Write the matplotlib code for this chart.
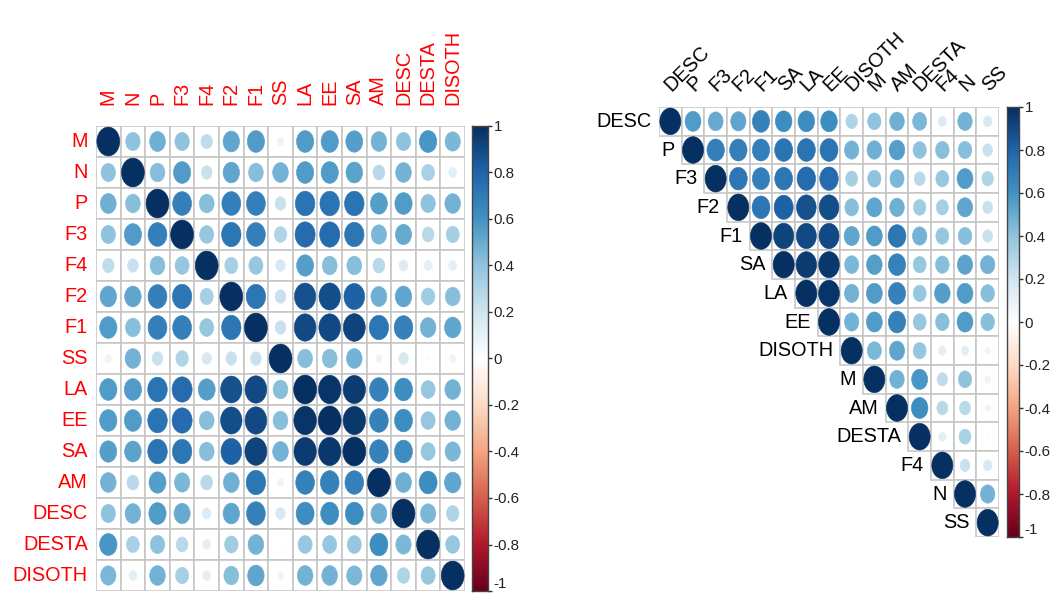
import matplotlib
matplotlib.use("Agg")
import matplotlib.pyplot as plt
import numpy as np
from matplotlib.patches import Ellipse, Rectangle
from matplotlib.colors import LinearSegmentedColormap
from matplotlib import font_manager as fm
from matplotlib.transforms import offset_copy

# variables in original order
labels = ["M", "N", "P", "F3", "F4", "F2", "F1", "SS", "LA", "EE", "SA",
          "AM", "DESC", "DESTA", "DISOTH"]

# order after hierarchical clustering
hc_order = ["DESC", "P", "F3", "F2", "F1", "SA", "LA", "EE", "DISOTH",
            "M", "AM", "DESTA", "F4", "N", "SS"]

corr = np.array([
    # M    N    P    F3   F4   F2   F1   SS   LA   EE   SA   AM  DESC DESTA DISOTH
    [1.00, .40, .48, .40, .25, .52, .57, .08, .57, .57, .55, .47, .40, .58, .45],  # M
    [.40, 1.00, .42, .57, .22, .52, .42, .47, .57, .57, .53, .27, .47, .32, .12],  # N
    [.48, .42, 1.00, .68, .42, .68, .68, .22, .73, .73, .73, .55, .57, .40, .47],  # P
    [.40, .57, .68, 1.00, .38, .72, .68, .30, .77, .77, .72, .45, .50, .27, .33],  # F3
    [.25, .22, .42, .38, 1.00, .33, .38, .17, .55, .42, .42, .27, .15, .12, .12],  # F4
    [.52, .52, .68, .72, .33, 1.00, .72, .22, .87, .88, .82, .48, .52, .35, .42],  # F2
    [.57, .42, .68, .68, .38, .72, 1.00, .22, .90, .90, .92, .72, .67, .47, .52],  # F1
    [.08, .47, .22, .30, .17, .22, .22, 1.00, .42, .42, .47, .07, .17, .02, .07],  # SS
    [.57, .57, .73, .77, .55, .87, .90, .42, 1.00, .97, .95, .67, .62, .38, .47],  # LA
    [.57, .57, .73, .77, .42, .88, .90, .42, .97, 1.00, .96, .67, .62, .38, .47],  # EE
    [.55, .53, .73, .72, .42, .82, .92, .47, .95, .96, 1.00, .67, .62, .38, .45],  # SA
    [.47, .27, .55, .45, .27, .48, .72, .07, .67, .67, .67, 1.00, .48, .62, .52],  # AM
    [.40, .47, .57, .50, .15, .52, .67, .17, .62, .62, .62, .48, 1.00, .45, .30],  # DESC
    [.58, .32, .40, .27, .12, .35, .47, .02, .38, .38, .38, .62, .45, 1.00, .38],  # DESTA
    [.45, .12, .47, .33, .12, .42, .52, .07, .47, .47, .45, .52, .30, .38, 1.00],  # DISOTH
])

cbar_ticks = [1, 0.8, 0.6, 0.4, 0.2, 0, -0.2, -0.4, -0.6, -0.8, -1]

# RdBu palette with a white centre
pal = ["#67001F", "#B2182B", "#D6604D", "#F4A582", "#FDDBC7", "#FFFFFF",
       "#D1E5F0", "#92C5DE", "#4393C3", "#2166AC", "#053061"]
cmap = LinearSegmentedColormap.from_list("rdbu2", pal, N=200)


def pick_font():
    for fam in ["Liberation Sans Narrow", "Arial Narrow"]:
        try:
            fm.findfont(fm.FontProperties(family=fam), fallback_to_default=False)
            return fam, 1.0
        except ValueError:
            pass
    return "Liberation Sans", 0.84


FONT, SCALE = pick_font()
plt.rcParams["font.family"] = [FONT, "DejaVu Sans"]

W, H = 1050, 594
fig = plt.figure(figsize=(W / 100, H / 100), dpi=100)


def px_axes(x0, y0, x1, y1):
    return fig.add_axes([x0 / W, 1 - y1 / H, (x1 - x0) / W, (y1 - y0) / H])


GRID = "#c4c4c4"


def draw_cells(ax, mat, upper_only=False):
    n = mat.shape[0]
    for i in range(n):
        for j in range(n):
            if upper_only and j < i:
                continue
            ax.add_patch(Rectangle((j, i), 1, 1, facecolor="white",
                                   edgecolor=GRID, lw=1.1, zorder=1))
            r = mat[i, j]
            d = 0.93 * np.sqrt(abs(r))
            c = cmap((r + 1) / 2)
            ax.add_patch(Ellipse((j + 0.5, i + 0.5), d, d, facecolor=c,
                                 edgecolor=c, lw=0.4, zorder=2))
    ax.set_xlim(0, n)
    ax.set_ylim(n, 0)
    ax.axis("off")


def draw_cbar(x0, y0, x1, y1, fs):
    cax = px_axes(x0, y0, x1, y1)
    grad = np.linspace(1, -1, 200).reshape(-1, 1)
    cax.imshow(grad, cmap=cmap, vmin=-1, vmax=1, aspect="auto",
               extent=[0, 1, -1, 1])
    cax.set_xticks([])
    cax.yaxis.tick_right()
    cax.set_yticks(cbar_ticks)
    cax.set_yticklabels(["%g" % t if t >= 0 else "-%g" % -t for t in cbar_ticks],
                        fontsize=fs * SCALE, color="#222222")
    cax.tick_params(axis="y", length=3, width=1, pad=1, color="#333333")
    # keep the lowest label inside the figure
    cax.get_yticklabels()[-1].set_va("bottom")
    for s in cax.spines.values():
        s.set_color("#444444")
        s.set_linewidth(1.0)
    return cax


n = len(labels)
lab_fs = 17 * SCALE

# left panel: full matrix in original order
axL = px_axes(96, 126, 465, 591)
draw_cells(axL, corr)
trL = offset_copy(axL.transData, fig=fig, x=-8, y=0, units="dots")
for i, name in enumerate(labels):
    axL.text(0, i + 0.5, name, transform=trL, ha="right", va="center",
             color="red", fontsize=lab_fs)
trT = offset_copy(axL.transData, fig=fig, x=0, y=21, units="dots")
for j, name in enumerate(labels):
    axL.text(j + 0.5, 0, name, transform=trT, ha="center", va="bottom",
             rotation=90, color="red", fontsize=lab_fs)
draw_cbar(472, 126, 488, 591, 13)

# right panel: upper triangle in clustered order
idx = [labels.index(v) for v in hc_order]
corr_hc = corr[np.ix_(idx, idx)]
axR = px_axes(659, 107, 999, 537)
draw_cells(axR, corr_hc, upper_only=True)
trD = offset_copy(axR.transData, fig=fig, x=-7, y=0, units="dots")
for i, name in enumerate(hc_order):
    axR.text(i, i + 0.5, name, transform=trD, ha="right", va="center",
             color="black", fontsize=lab_fs)
trR = offset_copy(axR.transData, fig=fig, x=4, y=12, units="dots")
for j, name in enumerate(hc_order):
    axR.text(j + 0.5, 0, name, transform=trR, ha="left", va="bottom",
             rotation=45, rotation_mode="anchor", color="black",
             fontsize=lab_fs)
draw_cbar(1007, 107, 1019, 537, 13)

fig.savefig("out.png", dpi=100, facecolor="white")
